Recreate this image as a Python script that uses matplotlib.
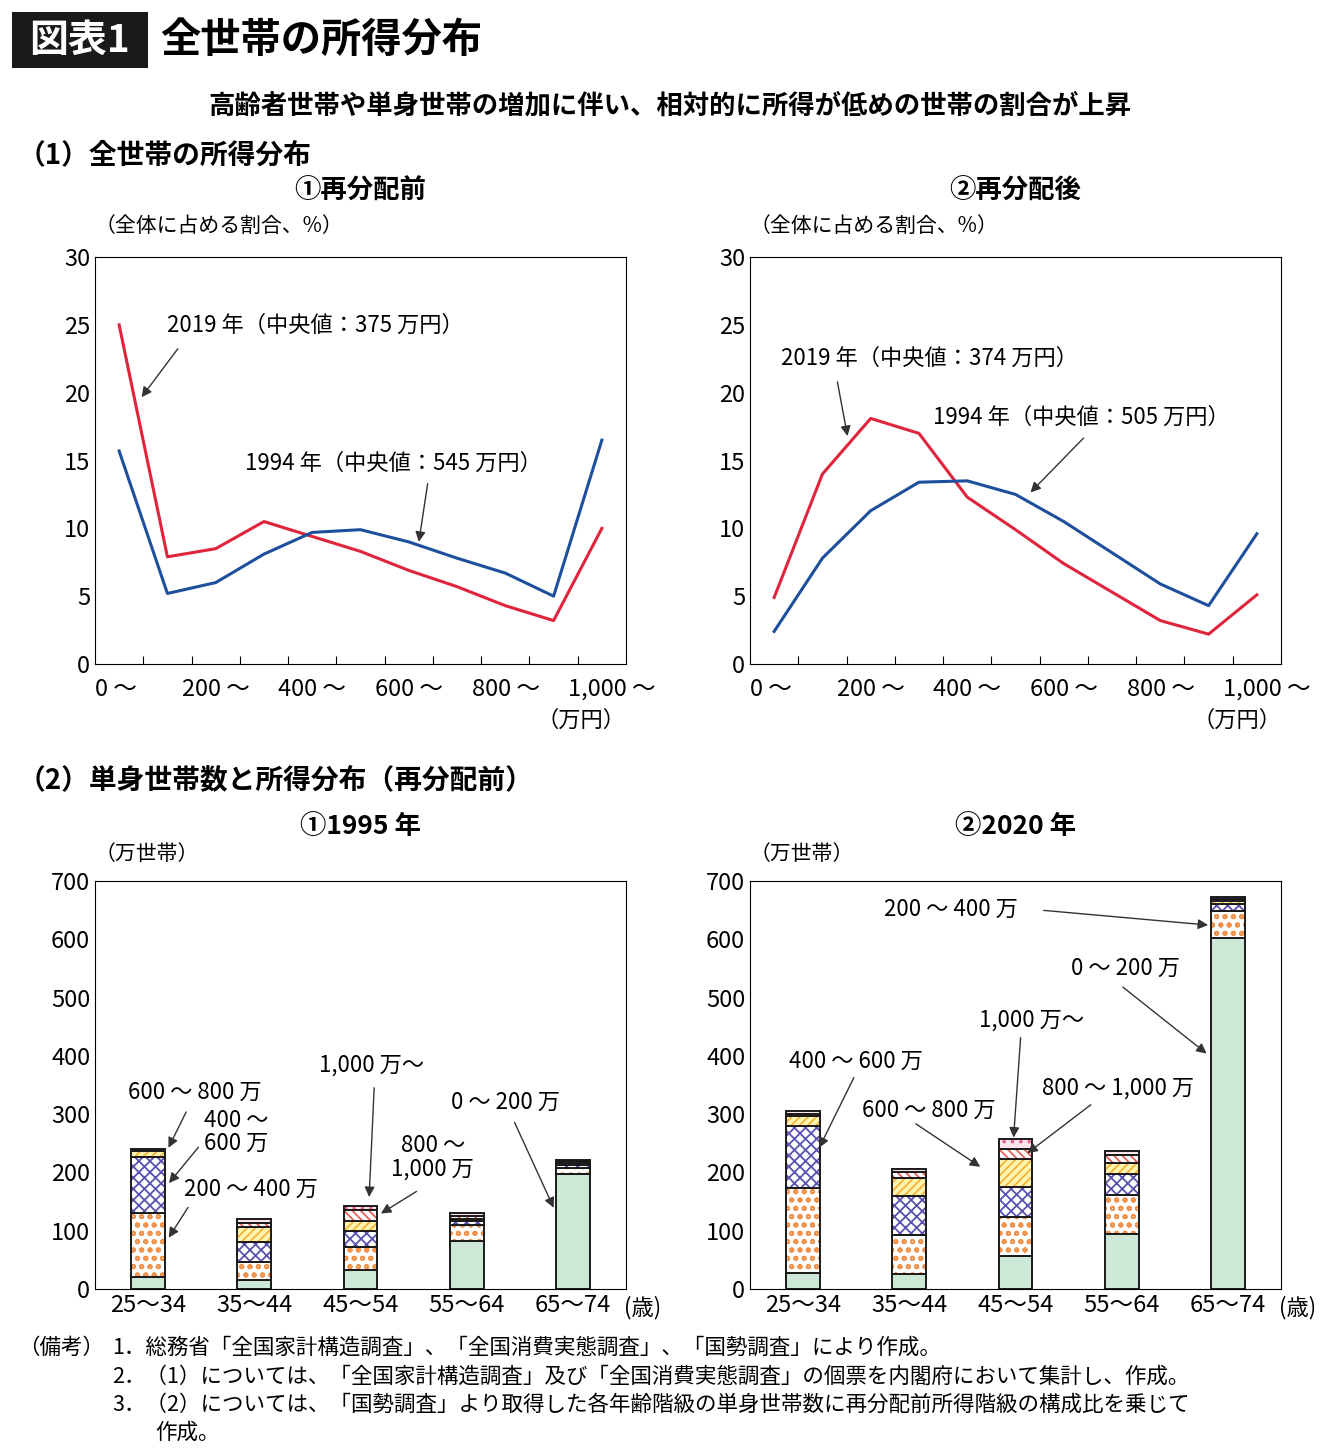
import numpy as np
import matplotlib
matplotlib.use("Agg")
import matplotlib.pyplot as plt
from matplotlib.patches import Rectangle

plt.rcParams['font.family'] = ['Noto Sans CJK JP', 'DejaVu Sans']
plt.rcParams['hatch.linewidth'] = 1.3

# ---- data ----
inc_bins = np.arange(11)
inc_ticks = ['0 ～', '200 ～', '400 ～', '600 ～', '800 ～', '1,000 ～']
before_2019 = [25.0, 7.9, 8.5, 10.5, 9.4, 8.3, 6.9, 5.7, 4.3, 3.2, 10.0]
before_1994 = [15.7, 5.2, 6.0, 8.1, 9.7, 9.9, 9.0, 7.8, 6.7, 5.0, 16.5]
after_2019 = [4.9, 14.0, 18.1, 17.0, 12.3, 9.9, 7.4, 5.3, 3.2, 2.2, 5.1]
after_1994 = [2.4, 7.8, 11.3, 13.4, 13.5, 12.5, 10.5, 8.2, 5.9, 4.3, 9.6]

ages = ['25～34', '35～44', '45～54', '55～64', '65～74']
brackets = ['0～200万', '200～400万', '400～600万', '600～800万', '800～1,000万', '1,000万～']
single_1995 = [
    [21, 15, 33, 82, 197],   # 0-200
    [109, 31, 39, 28, 10],   # 200-400
    [96, 35, 28, 6, 6],      # 400-600
    [10, 26, 16, 4, 3],      # 600-800
    [3, 6, 19, 5, 3],        # 800-1000
    [1, 7, 8, 5, 2],         # 1000-
]
single_2020 = [
    [28, 25, 57, 95, 603],
    [145, 68, 67, 66, 45],
    [106, 67, 51, 37, 12],
    [17, 31, 48, 18, 5],
    [4, 10, 18, 14, 4],
    [5, 5, 16, 7, 4],
]

face = ['#cde8d6', 'white', 'white', '#fff4b0', 'white', '#fde4ec']
hatch = [None, 'oo', 'xxx', '////', '\\\\\\\\', '..']
hcol = [None, '#f0924a', '#5a52b0', '#f2b53a', '#e8605a', '#e8608a']

RED = '#e0243c'
BLUE = '#1d4f9c'

fig = plt.figure(figsize=(13.4, 14.55), dpi=100)
W, H = 1340, 1455


def fx(px):
    return px / W


def fy(py):
    return 1 - py / H


# ---- header ----
fig.patches.append(Rectangle((fx(12), fy(68)), fx(136), 56 / H, transform=fig.transFigure,
                             facecolor='#1a1a1a', edgecolor='none'))
fig.text(fx(80), fy(40), '図表1', color='white', fontsize=28, fontweight='bold', ha='center', va='center')
fig.text(fx(160), fy(40), '全世帯の所得分布', fontsize=29, fontweight='bold', ha='left', va='center')
fig.text(0.5, fy(106), '高齢者世帯や単身世帯の増加に伴い、相対的に所得が低めの世帯の割合が上昇',
         fontsize=19, fontweight='bold', ha='center', va='center')
fig.text(fx(18), fy(155), '（1）全世帯の所得分布', fontsize=20, fontweight='bold', va='center')
fig.text(fx(18), fy(780), '（2）単身世帯数と所得分布（再分配前）', fontsize=20, fontweight='bold', va='center')

# ---- line charts ----
line_sets = [
    (95, '①再分配前', before_2019, before_1994),
    (750, '②再分配後', after_2019, after_1994),
]
axes_line = []
for left, ttl, r, b in line_sets:
    ax = fig.add_axes([fx(left), fy(664), 531 / W, 407 / H])
    ax.plot(inc_bins, r, color=RED, lw=2.2)
    ax.plot(inc_bins, b, color=BLUE, lw=2.2)
    ax.set_xlim(-0.5, 10.5)
    ax.set_ylim(0, 30)
    ax.set_yticks(range(0, 31, 5))
    ax.set_xticks(np.arange(0.5, 10.5, 1))
    ax.set_xticklabels([])
    ax.tick_params(axis='x', direction='in', length=6)
    ax.tick_params(axis='y', direction='in', length=0, labelsize=17)
    for i, lab in enumerate(inc_ticks):
        ax.text(2 * i - 0.5 - 0.2 + (0.2 if i == 0 else 0), -1.0, lab, fontsize=17, ha='left', va='top')
    ax.text(10.5, -3.3, '（万円）', fontsize=16, ha='right', va='top')
    ax.text(0.0, 1.05, '（全体に占める割合、%）', transform=ax.transAxes, fontsize=15, ha='left', va='bottom')
    ax.set_title(ttl, fontsize=19, fontweight='bold', pad=42)
    axes_line.append(ax)

arw = dict(arrowstyle='-|>', color='#333333', lw=1, mutation_scale=15)
a0, a1 = axes_line
a0.text(1.0, 25.0, '2019 年（中央値：375 万円）', fontsize=16, va='center')
a0.annotate('', xy=(0.43, 19.5), xytext=(1.25, 23.4), arrowprops=arw)
a0.text(2.6, 14.8, '1994 年（中央値：545 万円）', fontsize=16, va='center')
a0.annotate('', xy=(6.2, 8.8), xytext=(6.4, 13.5), arrowprops=arw)
a1.text(0.15, 22.5, '2019 年（中央値：374 万円）', fontsize=16, va='center')
a1.annotate('', xy=(1.53, 16.6), xytext=(1.3, 21.0), arrowprops=arw)
a1.text(3.3, 18.2, '1994 年（中央値：505 万円）', fontsize=16, va='center')
a1.annotate('', xy=(5.27, 12.5), xytext=(6.45, 16.8), arrowprops=arw)

# ---- bar charts ----
bar_sets = [(95, '①1995 年', single_1995), (750, '②2020 年', single_2020)]
axes_bar = []
x = np.arange(len(ages))
for left, ttl, data in bar_sets:
    ax = fig.add_axes([fx(left), fy(1289), 531 / W, 408 / H])
    bottom = np.zeros(len(ages))
    for k in range(len(brackets)):
        vals = np.array(data[k])
        if hatch[k]:
            ax.bar(x, vals, 0.32, bottom=bottom, color=face[k], hatch=hatch[k],
                   edgecolor=hcol[k], linewidth=0)
        ax.bar(x, vals, 0.32, bottom=bottom, fill=(hatch[k] is None), facecolor=face[k],
               edgecolor='#1a1a1a', linewidth=1.4)
        bottom += vals
    ax.set_xlim(-0.5, 4.5)
    ax.set_ylim(0, 700)
    ax.set_yticks(range(0, 701, 100))
    ax.set_xticks(x)
    ax.set_xticklabels(ages, fontsize=17)
    ax.tick_params(length=0, labelsize=17)
    ax.text(4.48, -12, '(歳)', fontsize=16, ha='left', va='top')
    ax.text(0.0, 1.04, '（万世帯）', transform=ax.transAxes, fontsize=15, ha='left', va='bottom')
    ax.set_title(ttl, fontsize=19, fontweight='bold', pad=34)
    axes_bar.append(ax)

b0, b1 = axes_bar
fs = 16
b0.text(-0.19, 338, '600 ～ 800 万', fontsize=fs, ha='left', va='center')
b0.annotate('', xy=(0.18, 238), xytext=(0.37, 308), arrowprops=arw)
b0.text(0.53, 270, '400 ～\n600 万', fontsize=fs, ha='left', va='center', linespacing=1.0)
b0.annotate('', xy=(0.18, 178), xytext=(0.49, 247), arrowprops=arw)
b0.text(0.34, 171, '200 ～ 400 万', fontsize=fs, ha='left', va='center')
b0.annotate('', xy=(0.18, 84), xytext=(0.39, 144), arrowprops=arw)
b0.text(1.61, 384, '1,000 万～', fontsize=fs, ha='left', va='center')
b0.annotate('', xy=(2.08, 153), xytext=(2.13, 350), arrowprops=arw)
b0.text(2.68, 226, '800 ～\n1,000 万', fontsize=fs, ha='center', va='center', linespacing=1.0)
b0.annotate('', xy=(2.17, 127), xytext=(2.55, 170), arrowprops=arw)
b0.text(3.37, 321, '0 ～ 200 万', fontsize=fs, ha='center', va='center')
b0.annotate('', xy=(3.83, 135), xytext=(3.44, 290), arrowprops=arw)

b1.text(1.39, 652, '200 ～ 400 万', fontsize=fs, ha='center', va='center')
b1.annotate('', xy=(3.84, 624), xytext=(2.24, 650), arrowprops=arw)
b1.text(3.04, 551, '0 ～ 200 万', fontsize=fs, ha='center', va='center')
b1.annotate('', xy=(3.82, 401), xytext=(2.99, 521), arrowprops=arw)
b1.text(2.15, 461, '1,000 万～', fontsize=fs, ha='center', va='center')
b1.annotate('', xy=(1.98, 255), xytext=(2.05, 436), arrowprops=arw)
b1.text(0.5, 391, '400 ～ 600 万', fontsize=fs, ha='center', va='center')
b1.annotate('', xy=(0.14, 238), xytext=(0.49, 367), arrowprops=arw)
b1.text(2.97, 345, '800 ～ 1,000 万', fontsize=fs, ha='center', va='center')
b1.annotate('', xy=(2.09, 230), xytext=(2.73, 319), arrowprops=arw)
b1.text(1.18, 307, '600 ～ 800 万', fontsize=fs, ha='center', va='center')
b1.annotate('', xy=(1.69, 207), xytext=(1.04, 286), arrowprops=arw)

# ---- notes ----
nfs = 15.5
fig.text(fx(18), fy(1348), '（備考）', fontsize=nfs, va='center')
notes = [
    '1．総務省「全国家計構造調査」、「全国消費実態調査」、「国勢調査」により作成。',
    '2．（1）については、「全国家計構造調査」及び「全国消費実態調査」の個票を内閣府において集計し、作成。',
    '3．（2）については、「国勢調査」より取得した各年齢階級の単身世帯数に再分配前所得階級の構成比を乗じて',
]
for i, n in enumerate(notes):
    fig.text(fx(112), fy(1348 + 28.5 * i), n, fontsize=nfs, va='center')
fig.text(fx(155), fy(1433), '作成。', fontsize=nfs, va='center')

fig.savefig('out.png', dpi=100)
